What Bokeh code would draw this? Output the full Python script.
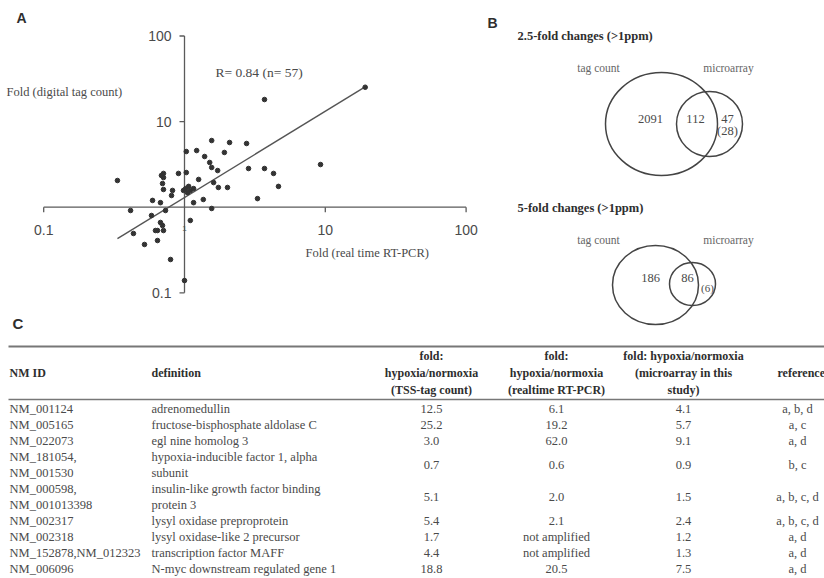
from bokeh.plotting import figure
from bokeh.models import Range1d, LogScale
from bokeh.core.properties import value
from bokeh.embed import file_html
from bokeh.resources import INLINE

# ---------------- Panel A data ----------------
rtpcr_fold = [19.2, 3.70, 1.56, 2.09, 2.76, 1.03, 1.22, 1.39, 1.92, 1.51,
              1.56, 1.72, 2.85, 3.70, 4.29, 9.25, 0.334, 0.709, 0.709, 0.906,
              1.03, 0.698, 0.709, 0.822, 0.809, 1.02, 1.07, 1.10, 1.16, 1.26,
              1.61, 1.74, 2.02, 4.65, 0.593, 0.675, 1.16, 1.36, 3.30, 0.414,
              0.583, 1.56, 1.10, 0.675, 0.698, 0.643, 0.709, 0.434, 0.520, 0.643,
              0.796, 1.00, 0.622, 1.05, 0.733, 0.984, 0.686]
tag_fold = [25.2, 18.1, 6.01, 5.70, 5.55, 4.47, 4.59, 3.91, 4.36, 3.33,
            2.91, 2.68, 2.83, 2.83, 2.48, 3.15, 2.05, 2.48, 2.22, 2.48,
            2.54, 1.89, 1.61, 1.57, 1.37, 1.65, 1.75, 1.57, 1.65, 2.11,
            1.94, 1.70, 1.70, 1.75, 1.20, 1.13, 1.13, 1.23, 1.26, 0.915,
            0.80, 0.966, 0.70, 0.663, 0.611, 0.534, 0.534, 0.493, 0.367, 0.408,
            0.245, 0.139, 0.534, 1.48, 0.915, 1.57, 2.35]
fit_x = [0.334, 19.3]
fit_y = [0.43, 25.6]
x_ticks = [0.1, 10, 100]
x_tick_labels = ["0.1", "10", "100"]
y_ticks = [0.1, 10, 100]
y_tick_labels = ["0.1", "10", "100"]
corr_label = "R= 0.84 (n= 57)"
x_title = "Fold (real time RT-PCR)"
y_title = "Fold (digital tag count)"

# ---------------- Panel B data ----------------
venn_titles = ["2.5-fold changes (>1ppm)", "5-fold changes (>1ppm)"]
set_names = ["tag count", "microarray"]
tag_only = ["2091", "186"]
both_sets = ["112", "86"]
array_only = ["47", ""]
array_only_sub = ["(28)", "(6)"]

# ---------------- Panel C data ----------------
col_headers = [["NM ID"], ["definition"],
               ["fold:", "hypoxia/normoxia", "(TSS-tag count)"],
               ["fold:", "hypoxia/normoxia", "(realtime RT-PCR)"],
               ["fold: hypoxia/normoxia", "(microarray in this", "study)"],
               ["reference"]]
nm_ids = [["NM_001124"], ["NM_005165"], ["NM_022073"],
          ["NM_181054,", "NM_001530"], ["NM_000598,", "NM_001013398"],
          ["NM_002317"], ["NM_002318"], ["NM_152878,NM_012323"], ["NM_006096"]]
definitions = [["adrenomedullin"], ["fructose-bisphosphate aldolase C"],
               ["egl nine homolog 3"],
               ["hypoxia-inducible factor 1, alpha", "subunit"],
               ["insulin-like growth factor binding", "protein 3"],
               ["lysyl oxidase preproprotein"], ["lysyl oxidase-like 2 precursor"],
               ["transcription factor MAFF"], ["N-myc downstream regulated gene 1"]]
tss_fold = ["12.5", "25.2", "3.0", "0.7", "5.1", "5.4", "1.7", "4.4", "18.8"]
pcr_fold = ["6.1", "19.2", "62.0", "0.6", "2.0", "2.1", "not amplified",
            "not amplified", "20.5"]
array_fold = ["4.1", "5.7", "9.1", "0.9", "1.5", "2.4", "1.2", "1.3", "7.5"]
references = ["a, b, d", "a, c", "a, d", "b, c", "a, b, c, d", "a, b, c, d",
              "a, d", "a, d", "a, d"]

# ---------------- layout constants (pixels) ----------------
W, H = 824, 578
SERIF = value("Liberation Serif")
SANS = value("Liberation Sans")
TXT = "#4a4a4a"
DARK = "#2e2e2e"

# log panel geometry: pixel of value 1 and pixels per decade
X1, XD = 184.0, 140.8
Y1, YD = 206.7, 85.6

p = figure(width=W, height=H, output_backend="svg", toolbar_location=None,
           x_range=Range1d(0, W), y_range=Range1d(H, 0),
           x_axis_location=None, y_axis_location=None, min_border=0,
           background_fill_color="white", border_fill_color="white")
p.grid.visible = False
p.outline_line_color = None

p.extra_x_ranges = {"ax": Range1d(10 ** ((0 - X1) / XD), 10 ** ((W - X1) / XD))}
p.extra_y_ranges = {"ay": Range1d(10 ** ((Y1 - H) / YD), 10 ** (Y1 / YD))}
p.extra_x_scales = {"ax": LogScale()}
p.extra_y_scales = {"ay": LogScale()}
LA = dict(x_range_name="ax", y_range_name="ay")

def px_dx(n):  # factor that moves n pixels in x on log scale
    return 10 ** (n / XD)

def px_dy(n):
    return 10 ** (n / YD)

AX = "#5a5a5a"
# crossing axes
p.segment(x0=[x_ticks[0]], y0=[1], x1=[x_ticks[-1]], y1=[1], line_color=AX, line_width=1.3, **LA)
p.segment(x0=[1], y0=[y_ticks[0]], x1=[1], y1=[y_ticks[-1]], line_color=AX, line_width=1.3, **LA)
# tick marks
p.segment(x0=x_ticks, y0=[1] * 3, x1=x_ticks, y1=[px_dy(-5)] * 3, line_color=AX, line_width=1.3, **LA)
p.segment(x0=[1] * 3, y0=y_ticks, x1=[px_dx(-5)] * 3, y1=y_ticks, line_color=AX, line_width=1.3, **LA)
# tick labels
p.text(x=x_ticks, y=[px_dy(-23)] * 3, text=x_tick_labels, text_align="center",
       text_baseline="middle", text_font=SANS, text_font_size="14px", text_color=TXT, **LA)
p.text(x=[1], y=[px_dy(-21)], text=["1"], text_align="center", text_baseline="middle",
       text_font=SANS, text_font_size="8px", text_color=TXT, **LA)
p.text(x=[px_dx(-13)] * 3, y=y_ticks, text=y_tick_labels, text_align="right",
       text_baseline="middle", text_font=SANS, text_font_size="14px", text_color=TXT, **LA)
# fit line and points
p.line(x=fit_x, y=fit_y, line_color="#555555", line_width=1.4, **LA)
p.scatter(x=rtpcr_fold, y=tag_fold, size=4.6, fill_color="#333333", line_color="#333333", **LA)

# panel A texts
p.text(x=[16], y=[17], text=["A"], text_font=SANS, text_font_style="bold",
       text_font_size="14px", text_baseline="middle", text_color=DARK)
p.text(x=[215], y=[72], text=[corr_label], text_font=SERIF, text_font_size="13.5px",
       text_baseline="middle", text_color=TXT)
p.text(x=[6], y=[91], text=[y_title], text_font=SERIF, text_font_size="12.5px",
       text_baseline="middle", text_color=TXT)
p.text(x=[305], y=[252], text=[x_title], text_font=SERIF, text_font_size="12.5px",
       text_baseline="middle", text_color=TXT)

# ---------------- Panel B ----------------
p.text(x=[487], y=[22], text=["B"], text_font=SANS, text_font_style="bold",
       text_font_size="14px", text_baseline="middle", text_color=DARK)
venn_top = [0, 172]
big = [(661, 123.5, 112, 103), (655, 284.5, 86, 79)]
small = [(709, 123.5, 66, 65), (692, 283.5, 46, 43)]
for i in range(2):
    dy = venn_top[i]
    p.text(x=[517], y=[35 + dy], text=[venn_titles[i]], text_font=SERIF,
           text_font_style="bold", text_font_size="12.5px", text_baseline="middle",
           text_color=DARK)
    p.text(x=[598, 728], y=[67 + dy] * 2, text=set_names, text_font=SERIF,
           text_font_size="11.5px", text_align="center", text_baseline="middle",
           text_color="#666666")
    bx, by, bw, bh = big[i]
    sx, sy, sw, sh = small[i]
    p.ellipse(x=[bx, sx], y=[by, sy], width=[bw, sw], height=[bh, sh],
              fill_color=None, line_color="#444444", line_width=1.5)
lab_x = [[650, 695, 727], [650, 687, 707]]
lab_y = [[118, 118, 118], [277, 277, 287]]
for i in range(2):
    p.text(x=lab_x[i][:2], y=lab_y[i][:2], text=[tag_only[i], both_sets[i]],
           text_font=SERIF, text_font_size="12.5px", text_align="center",
           text_baseline="middle", text_color=TXT)
    if array_only[i]:
        p.text(x=[lab_x[i][2]], y=[lab_y[i][2]], text=[array_only[i]],
               text_font=SERIF, text_font_size="12.5px", text_align="center",
               text_baseline="middle", text_color=TXT)
        p.text(x=[lab_x[i][2]], y=[lab_y[i][2] + 12], text=[array_only_sub[i]],
               text_font=SERIF, text_font_size="12.5px", text_align="center",
               text_baseline="middle", text_color=TXT)
    else:
        p.text(x=[lab_x[i][2]], y=[lab_y[i][2]], text=[array_only_sub[i]],
               text_font=SERIF, text_font_size="11px", text_align="center",
               text_baseline="middle", text_color=TXT)

# ---------------- Panel C (table) ----------------
p.text(x=[12], y=[323], text=["C"], text_font=SANS, text_font_style="bold",
       text_font_size="15px", text_baseline="middle", text_color=DARK)
RULE = "#777777"
p.segment(x0=[8], y0=[346], x1=[W], y1=[346], line_color=RULE, line_width=2)
p.segment(x0=[8], y0=[399], x1=[W], y1=[399], line_color=RULE, line_width=1.5)

col_x = [9, 151, 431, 556, 683, 777]
col_align = ["left", "left", "center", "center", "center", "left"]
HDR_MID, HDR_STEP = 372, 17
for c, lines in enumerate(col_headers):
    n = len(lines)
    ys = [HDR_MID + (k - (n - 1) / 2) * HDR_STEP for k in range(n)]
    p.text(x=[col_x[c]] * n, y=ys, text=lines, text_font=SERIF, text_font_style="bold",
           text_font_size="12px", text_align=col_align[c], text_baseline="middle",
           text_color=DARK)

ROW0, STEP = 408, 16
ref_x = 797
line_idx = 0
for r in range(len(nm_ids)):
    n = len(nm_ids[r])
    ys = [ROW0 + (line_idx + k) * STEP for k in range(n)]
    ymid = sum(ys) / n
    p.text(x=[col_x[0]] * n, y=ys, text=nm_ids[r], text_font=SERIF, text_font_size="12.5px",
           text_baseline="middle", text_color=TXT)
    p.text(x=[col_x[1]] * len(definitions[r]), y=ys[:len(definitions[r])], text=definitions[r],
           text_font=SERIF, text_font_size="12.5px", text_baseline="middle", text_color=TXT)
    p.text(x=[col_x[2], col_x[3], col_x[4], ref_x], y=[ymid] * 4,
           text=[tss_fold[r], pcr_fold[r], array_fold[r], references[r]],
           text_font=SERIF, text_font_size="12.5px", text_align="center",
           text_baseline="middle", text_color=TXT)
    line_idx += n

open("out.html", "w").write(file_html(p, INLINE))
